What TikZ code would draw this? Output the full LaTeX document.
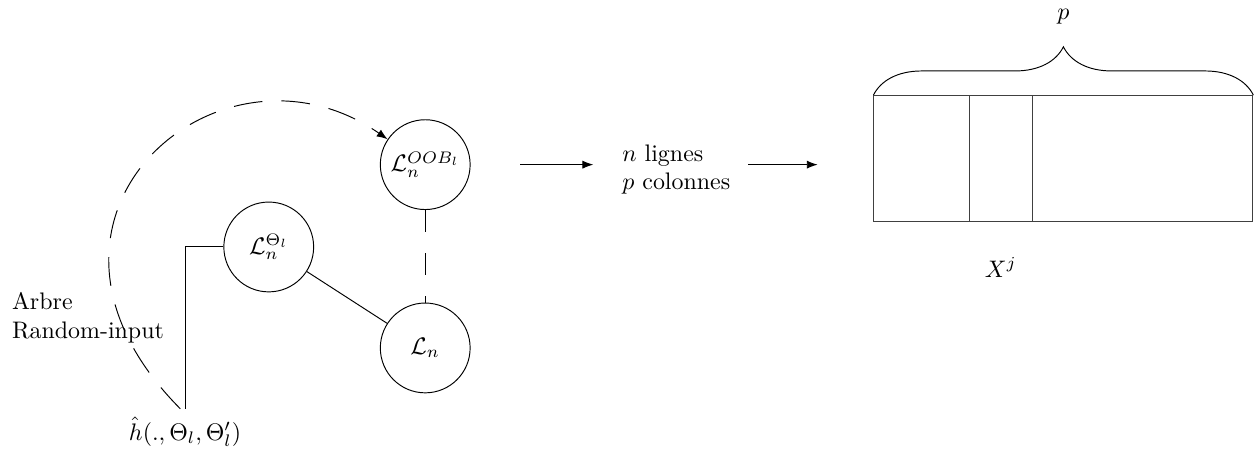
\documentclass[tikz,border=0pt]{standalone}
\usepackage{amsmath,amssymb}
\usepackage{tikz}
\usetikzlibrary{arrows.meta, positioning, decorations.pathreplacing}

\begin{document}
\begin{tikzpicture}[
        ens/.style={circle, draw=black, thin, minimum size=1.32cm, inner sep=0pt},
        txt/.style={align=left, inner sep=2pt},
        arrow/.style={-{Latex[length=1.6mm, width=1.2mm]}, thin},
        longdash/.style={dash pattern=on 12pt off 8pt, thin},
        tabbox/.style={rectangle, draw=black!75, thin, minimum height=1.85cm, inner sep=0pt}
    ]
    \useasboundingbox (0,0) rectangle (18.49,6.64);

    % Echantillons
    \node[ens] (oob) at (6.25,4.22) {$\mathcal{L}_n^{OOB_l}$};
    \node[ens, below=1.36cm of oob] (ln) {$\mathcal{L}_n$};
    \node[ens] (theta) at (3.95,3.01) {$\mathcal{L}_n^{\Theta_l}$};

    % Arbre
    \node (hhat) at (2.72,0.29) {$\hat{h}(.,\Theta_l,\Theta_l')$};
    \node[txt, anchor=west] (arbre) at (0.1,1.97) {Arbre\\Random-input};
    \coordinate (c1) at (-0.13,3.43);
    \coordinate (c2) at (3.22,6.32);

    % Tableau des donnees
    \node[txt] (dims) at (9.94,4.15) {$n$ lignes\\$p$ colonnes};
    \node[tabbox, minimum width=5.57cm] (tab) at (15.63,4.31) {};
    \node[tabbox, minimum width=0.93cm] (col) at (14.71,4.31) {};
    \node (pcount) at (15.63,6.39) {$p$};
    \node[below=0.4cm of col] (xj) {$X^j$};

    % Liens entre echantillons
    \draw (theta) -- (ln);
    \draw[longdash, dash pattern=on 9pt off 9pt] (oob) -- (ln);
    \draw (theta.west) -| (hhat.north);
    \draw[longdash, arrow] ([xshift=-2pt]hhat.north) .. controls (c1) and (c2) .. (oob.146);

    % Fleches vers le tableau
    \draw[arrow, shorten <=0.73cm, shorten >=0.35cm] (oob.east) -- (oob.east -| dims.west);
    \draw[arrow, shorten <=0.19cm, shorten >=0.82cm] (dims.east |- oob.east) -- (tab.west |- oob.east);
    \draw[decorate, decoration={brace, amplitude=0.71cm}] (tab.north west) -- (tab.north east);

\end{tikzpicture}
\end{document}
